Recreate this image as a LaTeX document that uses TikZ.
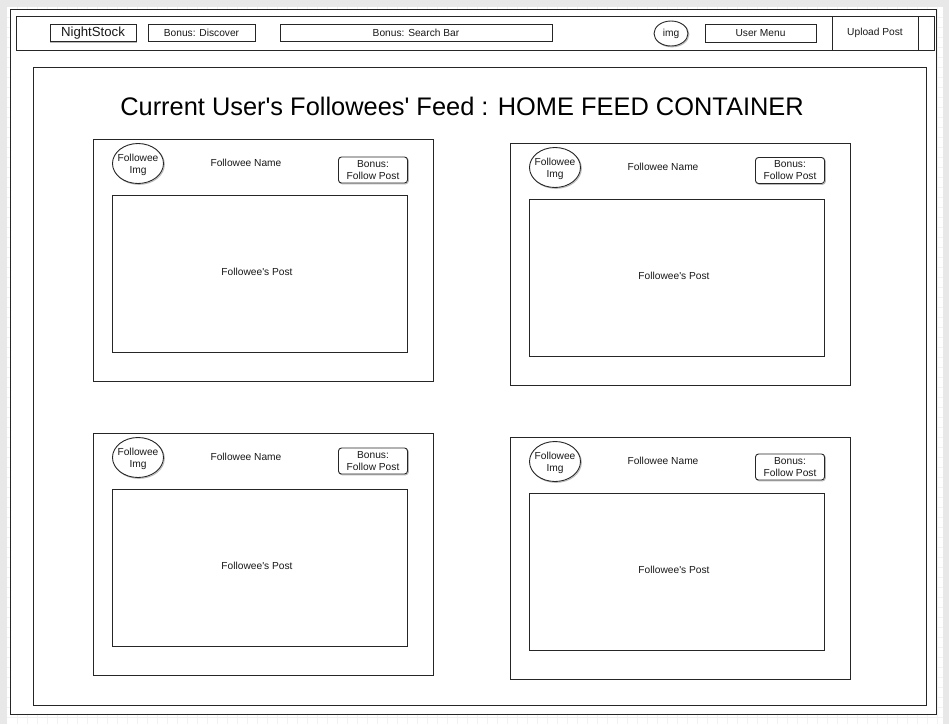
\documentclass[tikz,border=0pt]{standalone}
\usepackage{fontspec}
\setmainfont{Liberation Sans}
\usetikzlibrary{shapes.geometric}
\newcommand\apos{\textquotesingle}
\begin{document}
\begin{tikzpicture}[x=1pt,y=-1pt,
  inner sep=0pt, outer sep=0pt,
  smalltxt/.style={font=\fontsize{10.2}{12}\selectfont, text=black!90},
  outline/.style={draw=black!85, line width=0.9pt, fill=white,
    preaction={draw=black!28, line width=0.9pt,
      transform canvas={shift={(0.9pt,-0.9pt)}}}},
  boxed/.style={outline, rectangle, smalltxt},
  oval/.style={outline, ellipse},
  roundbox/.style={outline, rectangle, rounded corners=3pt, smalltxt, align=center},
  label/.style={smalltxt, align=center},
]
\useasboundingbox (0,0) rectangle (949,724);

% editor canvas: grey border, white page with a faint grid
\fill[black!9] (0,0) rectangle (949,724);
\fill[white] (7,7) rectangle (943,724);
\foreach \gx in {17,27,...,943} \draw[black!5, line width=0.5pt] (\gx,7) -- (\gx,724);
\foreach \gy in {17,27,...,724} \draw[black!5, line width=0.5pt] (7,\gy) -- (943,\gy);

% page frame
\node[outline, minimum width=926, minimum height=705] (page) at (473,361.5) {};

% navigation bar
\node[outline, minimum width=918, minimum height=34] (navbar) at (475,33) {};
\draw[black!85, line width=0.9pt] (832,16) -- (832,50);
\draw[black!85, line width=0.9pt] (918,16) -- (918,50);
\node[boxed, minimum width=86, minimum height=17, font=\fontsize{13.2}{15}\selectfont] (logo) at (93,33) {NightStock};
\node[boxed, minimum width=107, minimum height=17] (discover) at (201.5,32.5) {Bonus: Discover};
\node[boxed, minimum width=272, minimum height=17] (search) at (416,32.5) {Bonus: Search Bar};
\node[oval, minimum width=34, minimum height=25] (avatar) at (671,33.5) {};
\node[label] (avatartxt) at (avatar.center) {img};
\node[boxed, minimum width=111, minimum height=18] (usermenu) at (760.5,33) {User Menu};
\node[label] (upload) at (875,32.5) {Upload Post};

% home feed container
\node[outline, minimum width=893, minimum height=638] (feed) at (479.5,386) {};
\node[font=\fontsize{25.4}{30}\selectfont] (title) at (462,106)
  {Current User\apos s Followees\apos{} Feed : HOME FEED CONTAINER};

% followee cards
\foreach \id/\ox/\oy/\by in {1/93/139/31, 2/510/143/27.5, 3/93/433/28, 4/510/437/30}{
  \node[outline, minimum width=340, minimum height=242] (card\id) at (\ox+170,\oy+121) {};
  \node[oval, minimum width=51, minimum height=40] (img\id) at (\ox+45,\oy+24.5) {};
  \node[label] (imgtxt\id) at (\ox+45,\oy+26) {Followee\\Img};
  \node[label] (name\id) at (\ox+153,\oy+24) {Followee Name};
  \node[roundbox, minimum width=69, minimum height=26] (follow\id) at (\ox+280,\oy+\by) {Bonus:\\Follow Post};
  \node[boxed, minimum width=295, minimum height=157] (post\id) at (\ox+166.5,\oy+134.5) {};
  \node[label] (posttxt\id) at (\ox+164,\oy+133) {Followee\apos s Post};
}
\end{tikzpicture}
\end{document}
